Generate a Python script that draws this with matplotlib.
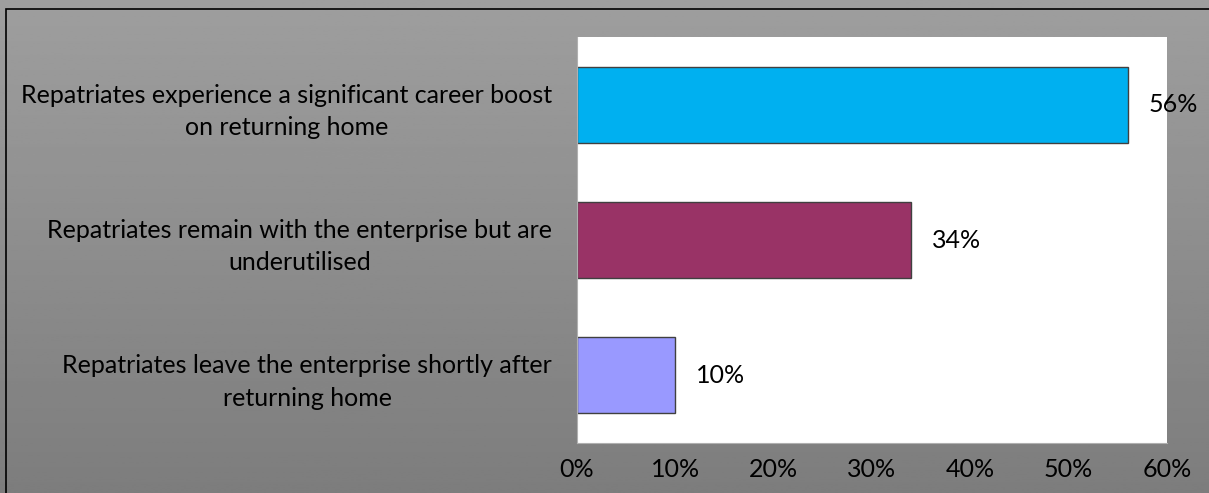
import matplotlib
matplotlib.use('Agg')
import matplotlib.pyplot as plt
import numpy as np
from matplotlib.patches import Rectangle

categories = ['Repatriates experience a significant career boost\non returning home',
              'Repatriates remain with the enterprise but are\nunderutilised',
              'Repatriates leave the enterprise shortly after\nreturning home']
values = [56, 34, 10]
colors = ['#00B0F0', '#993366', '#9999FF']
xticks = [0, 10, 20, 30, 40, 50, 60]

W, H = 1209, 493
plt.rcParams['font.family'] = ['Lato', 'DejaVu Sans']
fs = 18

fig = plt.figure(figsize=(W / 100, H / 100), dpi=100)

# gray gradient background
bg = fig.add_axes([0, 0, 1, 1], zorder=-1)
grad = np.linspace(0.62, 0.49, 200).reshape(-1, 1) * np.ones((1, 2))
bg.imshow(grad, aspect='auto', cmap='gray', vmin=0, vmax=1, extent=[0, 1, 0, 1], origin='upper')
bg.set_xlim(0, 1)
bg.set_ylim(0, 1)
bg.axis('off')
fig.patches.append(Rectangle((6 / W, -0.01), 1.1, 1 - 9 / H + 0.01, transform=fig.transFigure,
                             fill=False, edgecolor='black', linewidth=1.2))

# plot area
l, r, t, b = 577, 1167, 37, 443
ax = fig.add_axes([l / W, 1 - b / H, (r - l) / W, (b - t) / H])
ax.set_facecolor('white')
y = np.arange(len(categories))
ax.barh(y, values, height=0.56, color=colors, edgecolor='#404040', linewidth=1)
ax.set_ylim(len(categories) - 0.5, -0.5)
ax.set_xlim(0, 60)
ax.set_yticks(y)
ax.set_yticklabels(categories, multialignment='center', fontsize=fs, linespacing=1.5)
ax.set_xticks(xticks)
ax.set_xticklabels([f'{v}%' for v in xticks], fontsize=fs)
ax.tick_params(length=0)
ax.tick_params(axis='y', pad=18)
ax.tick_params(axis='x', pad=11)
for s in ax.spines.values():
    s.set_visible(False)
ax.spines['left'].set_visible(True)
ax.spines['left'].set_color('#b0b0b0')
ax.spines['bottom'].set_visible(True)
ax.spines['bottom'].set_color('#b0b0b0')

for yi, v in zip(y, values):
    ax.annotate(f'{v}%', (v, yi), xytext=(15, 0), textcoords='offset points',
                va='center', ha='left', fontsize=fs, annotation_clip=False)

fig.savefig('out.png', dpi=100)
